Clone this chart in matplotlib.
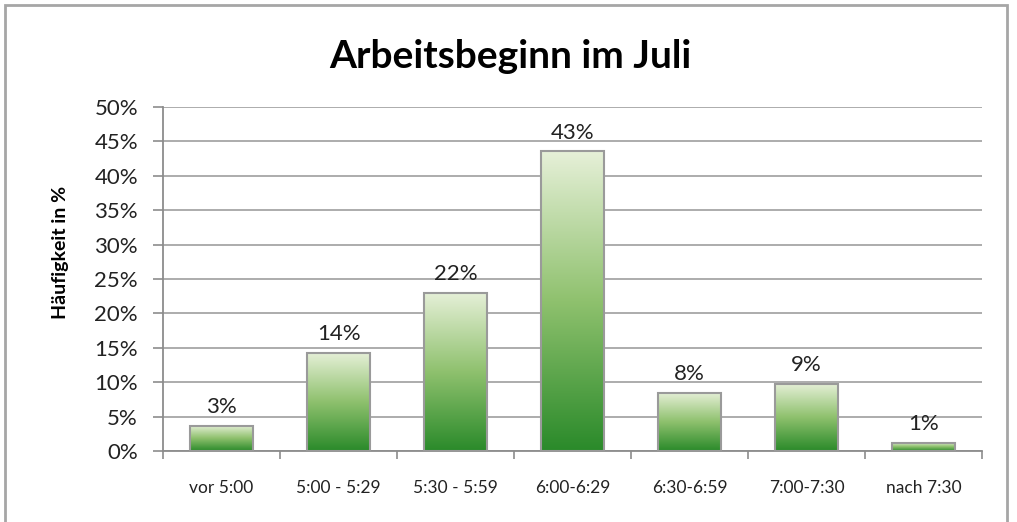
import numpy as np
import matplotlib
matplotlib.use("Agg")
import matplotlib.pyplot as plt
from matplotlib.colors import LinearSegmentedColormap
from matplotlib.patches import Rectangle

categories = ["vor 5:00", "5:00 - 5:29", "5:30 - 5:59", "6:00-6:29",
              "6:30-6:59", "7:00-7:30", "nach 7:30"]
heights = [3.7, 14.3, 23.0, 43.6, 8.5, 9.8, 1.2]
labels = ["3%", "14%", "22%", "43%", "8%", "9%", "1%"]
yticks = [0, 5, 10, 15, 20, 25, 30, 35, 40, 45, 50]

plt.rcParams['font.family'] = ['Lato', 'DejaVu Sans']

fig = plt.figure(figsize=(10.17, 5.22), dpi=100)
ax = fig.add_axes([0.1603, 0.136, 0.8053, 0.659])

# outer chart frame
fig.patches.append(Rectangle((0.005, -0.05), 0.985, 1.04, transform=fig.transFigure,
                             fill=False, edgecolor='#a6a6a6', linewidth=2))

grad = LinearSegmentedColormap.from_list('g', ['#2a8a2a', '#8fc16e', '#e6f0d8'])
img = np.linspace(0, 1, 256).reshape(-1, 1)

x = np.arange(len(categories))
bars = ax.bar(x, heights, width=0.54, color='none', edgecolor='#9a9a9a',
              linewidth=1.5, zorder=3)
for b in bars:
    x0, w, h = b.get_x(), b.get_width(), b.get_height()
    im = ax.imshow(img, cmap=grad, aspect='auto', origin='lower',
                   extent=(x0, x0 + w, 0, h), zorder=2)
    im.set_clip_path(b)

for xi, h, lab in zip(x, heights, labels):
    ax.annotate(lab, (xi, h), xytext=(0, 6), textcoords='offset points',
                ha='center', va='bottom', fontsize=16, color='#222222')

ax.set_xlim(-0.5, len(categories) - 0.5)
ax.set_ylim(0, 50)
ax.set_yticks(yticks)
ax.set_yticklabels([f"{v}%" for v in yticks], fontsize=16, color='#222222')
ax.set_xticks(x)
ax.set_xticklabels(categories, fontsize=12.5, color='#222222')
ax.set_xticks(np.arange(len(categories) + 1) - 0.5, minor=True)
ax.tick_params(axis='x', which='major', length=0, pad=21)
ax.tick_params(axis='x', which='minor', length=6, color='#8c8c8c', width=1.2)
ax.tick_params(axis='y', length=7, color='#8c8c8c', width=1.2, pad=11)

ax.yaxis.grid(True, color='#a6a6a6', linewidth=1.3, zorder=0)
ax.set_axisbelow(True)
for s in ['top', 'right']:
    ax.spines[s].set_visible(False)
for s in ['left', 'bottom']:
    ax.spines[s].set_color('#8c8c8c')
    ax.spines[s].set_linewidth(1.3)

fig.text(0.059, 0.517, "Häufigkeit in %", rotation=90, ha='center', va='center',
         fontsize=14, fontweight='bold')
fig.text(0.502, 0.870, "Arbeitsbeginn im Juli", ha='center', va='baseline',
         fontsize=28, fontweight='bold')

fig.savefig("out.png", dpi=100)
